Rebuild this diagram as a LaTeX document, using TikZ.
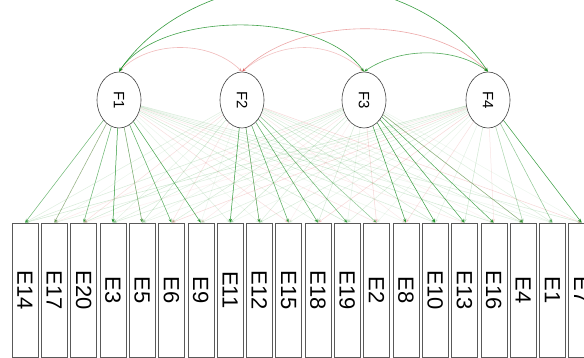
\documentclass[tikz,border=0pt]{standalone}
\usepackage{fontspec}
\setmainfont{Liberation Sans}
\usetikzlibrary{shapes.geometric,arrows.meta}

\definecolor{posgreen}{RGB}{20,140,30}
\definecolor{negred}{RGB}{215,60,60}

\tikzset{
  itembox/.style={draw=black!65, line width=0.6pt, fill=white, inner sep=0pt,
    minimum width=26pt, minimum height=134pt, font=\fontsize{22}{22}\selectfont},
  latent/.style={ellipse, draw=black!75, line width=0.6pt, fill=white, inner sep=0pt,
    minimum width=44pt, minimum height=56pt, font=\fontsize{15}{15}\selectfont},
  tip/.style={-{Stealth[length=4pt,width=3pt]}},
  load/.style={tip, line width=0.5pt},
  cov/.style={{Stealth[length=4pt,width=3pt]}-{Stealth[length=4pt,width=3pt]}, line width=0.6pt}
}

\begin{document}
\begin{tikzpicture}[x=1pt, y=-1pt]
  \path[use as bounding box, clip] (0,0) rectangle (584,358);
  \fill[white] (0,0) rectangle (584,358);

  % latent factors
  \foreach \k/\x in {1/119, 2/242, 3/364, 4/488}
    \node[latent] (F\k) at (\x,100) {\rotatebox{-90}{F\k}};

  % observed items
  \foreach \e [count=\i from 0] in {14,17,20,3,5,6,9,11,12,15,18,19,2,8,10,13,16,4,1,7}
    \node[itembox] (e\e) at ({25+29.3*\i},290) {\rotatebox{-90}{E\e}};

  % weak cross-loadings
  \foreach \e [count=\i from 0] in {14,17,20,3,5,6,9,11,12,15,18,19,2,8,10,13,16,4,1,7}{
    \foreach \f in {1,2,3,4}{
      \pgfmathtruncatemacro\h{mod(\i*7+\f*5,11)}
      \pgfmathsetmacro\op{0.08+0.03*mod(\i*3+\f,5)}
      \ifnum\h<3
        \draw[load, draw=negred, opacity=\op] (F\f) -- (e\e.north);
      \else
        \draw[load, draw=posgreen, opacity=\op] (F\f) -- (e\e.north);
      \fi
    }
  }

  % main loadings
  \foreach \f/\e/\op in {
      1/14/0.55, 1/17/0.45, 1/20/0.55, 1/3/0.85, 1/5/0.6, 1/6/0.65, 1/9/0.7,
      2/11/0.8, 2/12/0.75, 2/15/0.6, 2/18/0.65, 2/19/0.6, 2/2/0.35,
      3/8/0.75, 3/10/0.8, 3/13/0.7, 3/16/0.7, 3/4/0.5,
      4/4/0.3, 4/1/0.35, 4/7/0.8}
    \draw[load, draw=posgreen, opacity=\op] (F\f) -- (e\e.north);

  % factor covariances
  \draw[cov, draw=negred, opacity=0.35] (F1.north) .. controls (150,40) and (210,40) .. (F2.north);
  \draw[cov, draw=negred, opacity=0.3] (F2.north) .. controls (280,40) and (330,40) .. (F3.north);
  \draw[cov, draw=negred, opacity=0.45] (F2.north) .. controls (300,15) and (430,15) .. (F4.north);
  \draw[cov, draw=posgreen, opacity=0.8] (F1.north) .. controls (160,10) and (320,10) .. (F3.north);
  \draw[cov, draw=posgreen, opacity=0.85] (F1.north) .. controls (200,-45) and (410,-45) .. (F4.north);
  \draw[cov, draw=posgreen, opacity=0.75] (F3.north) .. controls (400,47) and (455,47) .. (F4.north);
\end{tikzpicture}
\end{document}
